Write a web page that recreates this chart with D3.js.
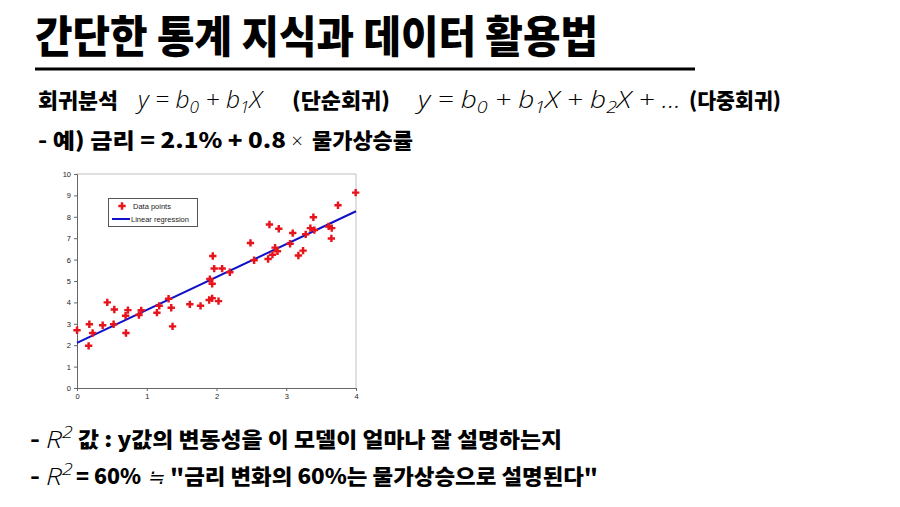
<!DOCTYPE html>
<html><head><meta charset="utf-8">
<script src="https://cdn.jsdelivr.net/npm/d3@7"></script>
<style>
html,body{margin:0;padding:0;background:#fff;}
svg{display:block;}
.kr{font-family:"Noto Sans CJK KR","Noto Sans",sans-serif;font-weight:900;fill:#000;}
.math{font-family:"Open Sans","Liberation Sans",sans-serif;font-style:italic;font-weight:300;fill:#000;}
</style></head>
<body>
<script>
// ---- data ----
const xValues = [0.00,0.167,0.177,0.224,0.368,0.434,0.525,0.535,0.697,0.702,0.730,0.888,0.921,1.146,1.179,1.313,1.351,1.370,1.618,1.771,1.895,1.905,1.938,1.938,1.947,1.967,2.029,2.081,2.191,2.487,2.539,2.740,2.759,2.802,2.840,2.874,2.893,3.055,3.093,3.174,3.241,3.279,3.346,3.389,3.403,3.608,3.652,3.647,3.742,3.995];
const yValues = [2.70,1.97,2.98,2.57,2.93,4.00,2.98,3.67,3.38,2.57,3.64,3.41,3.63,3.52,3.84,4.17,3.75,2.88,3.91,3.84,4.11,5.09,4.19,4.87,6.17,5.58,4.06,5.58,5.41,6.78,5.97,6.03,7.64,6.23,6.56,6.39,7.44,6.74,7.24,6.19,6.42,7.18,7.47,7.98,7.38,7.55,7.47,6.99,8.54,9.13];
const regressionX = [0, 4];
const regressionY = [2.11, 8.26];
const xTicks = [0,1,2,3,4];
const yTicks = [0,1,2,3,4,5,6,7,8,9,10];
const legendLabels = ["Data points","Linear regression"];

const W=900,H=507;
const svg=d3.select("body").append("svg").attr("width",W).attr("height",H);

// ---- slide text ----
svg.append("text").attr("class","kr").attr("x",35).attr("y",53)
  .attr("font-size",44).attr("textLength",563).attr("lengthAdjust","spacingAndGlyphs")
  .text("간단한 통계 지식과 데이터 활용법");
svg.append("line").attr("x1",35).attr("x2",695).attr("y1",69).attr("y2",69)
  .attr("stroke","#000").attr("stroke-width",3);

function kr(x,y,len,size,str){
  return svg.append("text").attr("class","kr").attr("x",x).attr("y",y).attr("font-size",size)
    .attr("textLength",len).attr("lengthAdjust","spacingAndGlyphs").text(str);
}
function math(x,y,size,len,parts){
  const t=svg.append("text").attr("class","math").attr("x",x).attr("y",y).attr("font-size",size);
  if(len) t.attr("textLength",len).attr("lengthAdjust","spacingAndGlyphs");
  parts.forEach(p=>{
    const ts=t.append("tspan").text(p[0]);
    if(p[1]==="sub") ts.attr("font-size",size*0.7).attr("dy",size*0.22);
    if(p[1]==="back") ts.attr("dy",-size*0.22);
    if(p[1]==="sup") ts.attr("font-size",size*0.7).attr("dy",-size*0.42);
  });
  return t;
}
// line 2
kr(38,108,80,21,"회귀분석");
math(138,108,24,124,[["y = b"],["0","sub"],[" + b","back"],["1","sub"],["X","back"]]);
kr(292,108,98,21,"(단순회귀)");
math(418,108,24,263,[["y = b"],["0","sub"],[" + b","back"],["1","sub"],["X + b","back"],["2","sub"],["X + ...","back"]]);
kr(689,108,92,21,"(다중회귀)");
// line 3
kr(38,148,248,21,"- 예) 금리 = 2.1% + 0.8");
math(291,148,20,0,[["×"]]).attr("font-style","normal");
kr(312,148,101,21,"물가상승률");
// line 4
kr(30,447,10,21,"-");
math(46,448,24,27,[["R"],["2","sup"]]);
kr(78,447,484,21,"값 : y값의 변동성을 이 모델이 얼마나 잘 설명하는지");
// line 5
kr(30,484,10,21,"-");
math(46,485,24,27,[["R"],["2","sup"]]);
kr(76,484,65,21,"= 60%");
math(147,484,20,0,[["≒"]]).attr("font-style","normal");
kr(170,484,428,21,"\"금리 변화의 60%는 물가상승으로 설명된다\"");

// ---- chart ----
const x=d3.scaleLinear().domain([0,4]).range([77,356]);
const y=d3.scaleLinear().domain([0,10]).range([388,174]);
const g=svg.append("g");
g.append("line").attr("x1",x(0)).attr("x2",x(4)).attr("y1",y(10)).attr("y2",y(10)).attr("stroke","#c0c0c0");
g.append("line").attr("x1",x(4)).attr("x2",x(4)).attr("y1",y(10)).attr("y2",y(0)).attr("stroke","#c0c0c0");
const ya=g.append("g").attr("transform",`translate(${x(0)},0)`)
  .call(d3.axisLeft(y).tickValues(yTicks).tickSize(3).tickPadding(3).tickFormat(d3.format("d")));
const xa=g.append("g").attr("transform",`translate(0,${y(0)})`)
  .call(d3.axisBottom(x).tickValues(xTicks).tickSize(3).tickPadding(3).tickFormat(d3.format("d")));
[ya,xa].forEach(a=>{a.selectAll("path,line").attr("stroke","#666");a.selectAll("text").attr("font-size",7.5).attr("font-family","Liberation Sans, Arial, sans-serif").attr("fill","#222");});

// regression
g.append("line").attr("x1",x(regressionX[0])).attr("y1",y(regressionY[0]))
  .attr("x2",x(regressionX[1])).attr("y2",y(regressionY[1]))
  .attr("stroke","#1010c8").attr("stroke-width",2);
// points
const sym=d3.symbol().type(d3.symbolCross).size(30);
g.selectAll("path.pt").data(xValues.map((v,i)=>[v,yValues[i]])).join("path")
  .attr("class","pt").attr("d",sym).attr("fill","#e8141b")
  .attr("transform",d=>`translate(${x(d[0])},${y(d[1])})`);

// legend
const lg=g.append("g");
lg.append("rect").attr("x",108.5).attr("y",198.5).attr("width",89).attr("height",28)
  .attr("fill","#fff").attr("stroke","#555");
lg.append("path").attr("d",sym).attr("fill","#e8141b").attr("transform","translate(122,206)");
lg.append("line").attr("x1",112).attr("x2",130).attr("y1",219).attr("y2",219).attr("stroke","#1010c8").attr("stroke-width",2);
lg.selectAll("text.lt").data(legendLabels).join("text").attr("class","lt")
  .attr("x",(d,i)=>i?131:133).attr("y",(d,i)=>209+i*12.5)
  .attr("font-size",7.5).attr("font-family","Liberation Sans, Arial, sans-serif").attr("fill","#222").text(d=>d);
</script>
</body></html>
